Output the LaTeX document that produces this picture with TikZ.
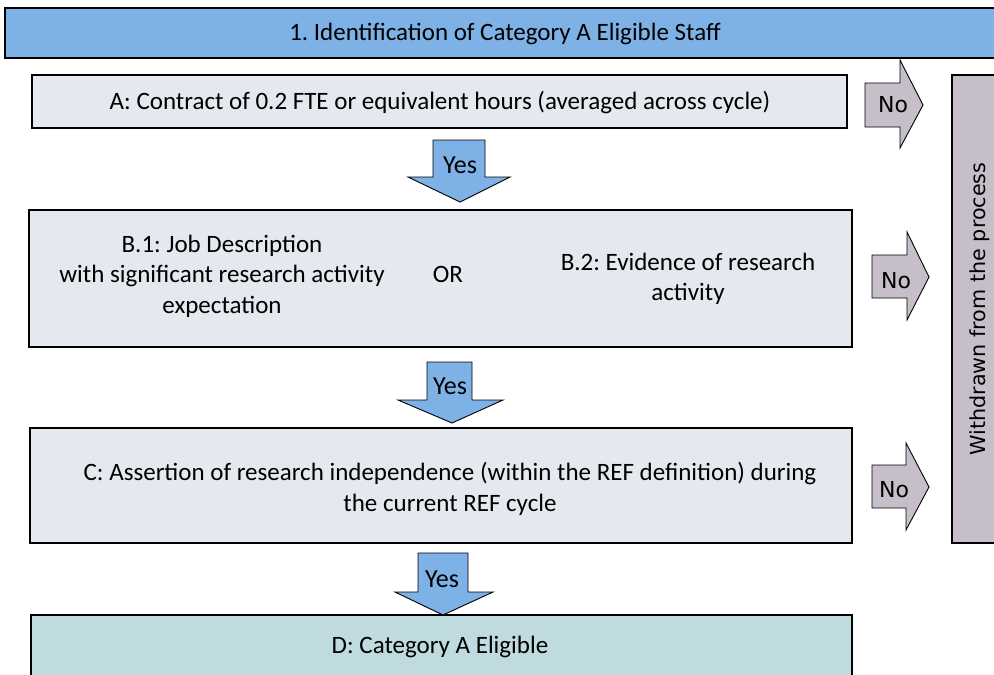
\documentclass[tikz,border=0pt]{standalone}
\usepackage{fontspec}
\setmainfont{Carlito}
\newfontfamily\verd{DejaVu Sans}
\definecolor{banblue}{HTML}{7EB2E6}
\definecolor{boxgray}{HTML}{E5E8EE}
\definecolor{boxteal}{HTML}{BFDBDF}
\definecolor{mauve}{HTML}{C6BFCA}
\frenchspacing
\tikzset{
  stepbox/.style={fill=boxgray,draw=black,line width=1.3pt},
  yesarrow/.style={fill=banblue,draw=black,line width=0.9pt,line join=miter},
  noarrow/.style={fill=mauve,draw=black,line width=0.9pt,line join=miter},
  txt/.style={font=\fontsize{25}{30.5}\selectfont,align=center,inner sep=0pt},
  yestxt/.style={font=\fontsize{26}{30}\selectfont,inner sep=0pt},
  notxt/.style={font=\verd\fontsize{22}{24}\selectfont,inner sep=0pt},
}
\begin{document}
\begin{tikzpicture}[x=1pt,y=-1pt]
\clip (0,0) rectangle (994,675);
\fill[white] (0,0) rectangle (994,675);
% banner
\draw[fill=banblue,draw=black,line width=1.3pt] (5,8) rectangle (1000,58);
\node[txt] (ban) at (505,34) {1. Identification of Category A Eligible Staff};
% boxes
\draw[stepbox] (32,75) rectangle (847,128);
\node[txt] (A) at (440,103) {A: Contract of 0.2 FTE or equivalent hours (averaged across cycle)};
\draw[stepbox] (29,210) rectangle (852,347);
\node[txt] (B1) at (222,276) {B.1: Job Description\\with significant research activity\\expectation};
\node[txt] (OR) at (448,274) {OR};
\node[txt] (B2) at (688,279) {B.2: Evidence of research\\activity};
\draw[stepbox] (30,428) rectangle (852,543);
\node[txt] (C) at (450,489) {C: Assertion of research independence (within the REF definition) during\\the current REF cycle};
\draw[stepbox,fill=boxteal] (31,615) rectangle (852,690);
\node[txt] (D) at (440,647) {D: Category A Eligible};
% withdrawn
\draw[noarrow,line width=1.3pt] (952,75) rectangle (1000,543);
\node[notxt,font=\verd\fontsize{20.7}{22}\selectfont,rotate=90] (W) at (980,309) {Withdrawn from the process};
% yes arrows
\draw[yesarrow] (433,140) -- (485,140) -- (485,177) -- (510,177) -- (460,202) -- (408,177) -- (433,177) -- cycle;
\node[yestxt] (Y1) at (460,165) {Yes};
\draw[yesarrow] (427,362) -- (472,362) -- (472,400) -- (503,400) -- (452,423) -- (398,400) -- (427,400) -- cycle;
\node[yestxt] (Y2) at (450,386) {Yes};
\draw[yesarrow] (418,553) -- (468,553) -- (468,592) -- (493,592) -- (443,615) -- (395,592) -- (418,592) -- cycle;
\node[yestxt] (Y3) at (442,579) {Yes};
% no arrows
\draw[noarrow] (865,83) -- (900,83) -- (900,60) -- (923,105) -- (900,148) -- (900,127) -- (865,127) -- cycle;
\node[notxt] (N1) at (893,105) {No};
\draw[noarrow] (872,255) -- (907,255) -- (907,232) -- (929,277) -- (907,320) -- (907,298) -- (872,298) -- cycle;
\node[notxt] (N2) at (896,281) {No};
\draw[noarrow] (872,465) -- (906,465) -- (906,443) -- (929,487) -- (906,530) -- (906,508) -- (872,508) -- cycle;
\node[notxt] (N3) at (894,490) {No};
\end{tikzpicture}
\end{document}
